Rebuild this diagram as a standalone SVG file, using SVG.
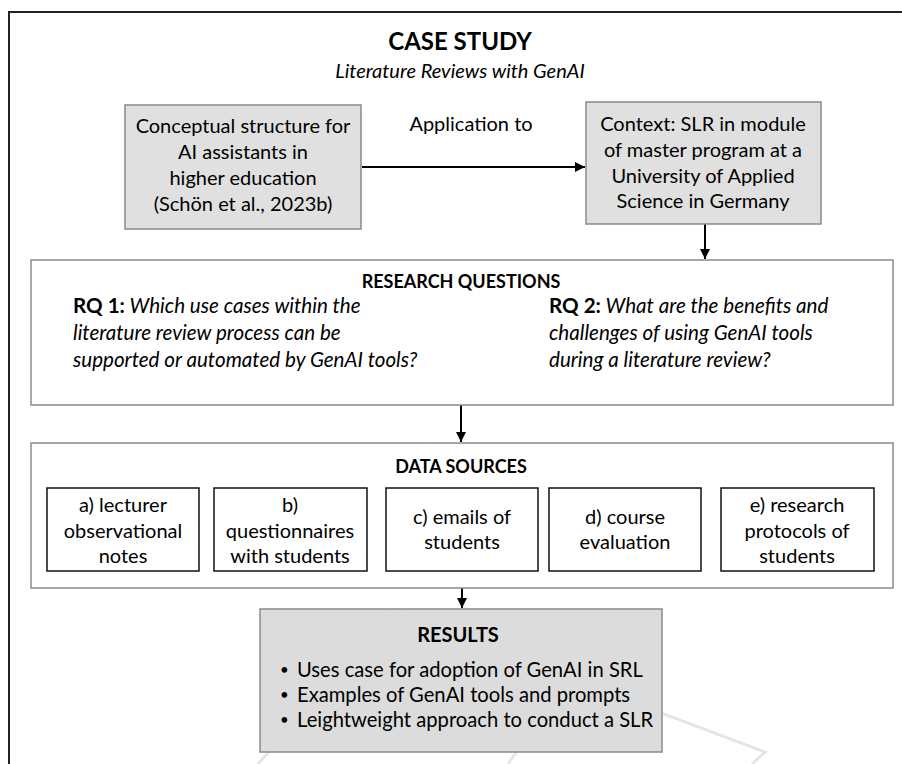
<svg xmlns="http://www.w3.org/2000/svg" width="902" height="764" viewBox="0 0 902 764">
<defs>
<marker id="ah" viewBox="0 0 10 10" refX="10" refY="5" markerWidth="10" markerHeight="10" markerUnits="userSpaceOnUse" orient="auto">
<path d="M0,0 L10,5 L0,10 z" fill="#000"/>
</marker>
<style>
text{font-family:Lato,"Liberation Sans",sans-serif;fill:#000;}
.t{font-size:20px;text-anchor:middle;}
.h{font-size:18px;font-weight:bold;text-anchor:middle;}
.q{font-size:20.6px;}
.r{font-size:20.2px;}
.b{font-size:15px;}
.gray{fill:#e0e0e0;stroke:#8a8a8a;stroke-width:1.5;}
.panel{fill:#fff;stroke:#8a8a8a;stroke-width:1.5;}
.src{fill:#fff;stroke:#111;stroke-width:1.5;}
.conn{stroke:#000;stroke-width:2;fill:none;}
.wm{stroke:#e6e6e6;stroke-width:3;fill:none;}
</style>
</defs>
<rect width="902" height="764" fill="#fff"/>
<g id="watermark">
<path class="wm" d="M258,764 L394,612 L470,640"/>
<path class="wm" d="M600,690 Q680,720 765,752 L752,764"/>
<path class="wm" d="M508,764 L552,700"/>
</g>
<path d="M9,764 L9,12 L902,12" fill="none" stroke="#222" stroke-width="2"/>
<g id="title">
<text x="460" y="50" style="font-size:24px;font-weight:bold;text-anchor:middle">CASE STUDY</text>
<text x="460" y="78" style="font-size:20px;font-style:italic;text-anchor:middle">Literature Reviews with GenAI</text>
</g>
<g id="connectors">
<line class="conn" x1="362" y1="167" x2="585" y2="167" marker-end="url(#ah)"/>
<text x="471" y="131" class="t">Application to</text>
<line class="conn" x1="705" y1="224" x2="705" y2="259" marker-end="url(#ah)"/>
<line class="conn" x1="461" y1="405" x2="461" y2="442" marker-end="url(#ah)"/>
<line class="conn" x1="462" y1="588" x2="462" y2="608" marker-end="url(#ah)"/>
</g>
<g id="concept">
<rect class="gray" x="125" y="105" width="236" height="124"/>
<text class="t" x="243" y="133">Conceptual structure for</text>
<text class="t" x="243" y="159">AI assistants in</text>
<text class="t" x="243" y="185">higher education</text>
<text class="t" x="243" y="211">(Schön et al., 2023b)</text>
</g>
<g id="context">
<rect class="gray" x="586" y="102" width="235" height="122"/>
<text class="t" x="703" y="131">Context: SLR in module</text>
<text class="t" x="703" y="157">of master program at a</text>
<text class="t" x="703" y="183">University of Applied</text>
<text class="t" x="703" y="208">Science in Germany</text>
</g>
<g id="rq">
<rect class="panel" x="31" y="260" width="862" height="145"/>
<text class="h" x="461" y="288">RESEARCH QUESTIONS</text>
<text class="q" x="73" y="313"><tspan font-weight="bold">RQ 1:</tspan><tspan font-style="italic"> Which use cases within the</tspan></text>
<text class="q" x="73" y="340" font-style="italic">literature review process can be</text>
<text class="q" x="73" y="367" font-style="italic">supported or automated by GenAI tools?</text>
<text class="q" x="549" y="313"><tspan font-weight="bold">RQ 2:</tspan><tspan font-style="italic"> What are the benefits and</tspan></text>
<text class="q" x="549" y="340" font-style="italic">challenges of using GenAI tools</text>
<text class="q" x="549" y="367" font-style="italic">during a literature review?</text>
</g>
<g id="datasources">
<rect class="panel" x="31" y="443" width="862" height="145"/>
<text class="h" x="461" y="473">DATA SOURCES</text>
</g>
<g id="src-a">
<rect class="src" x="47" y="488" width="152" height="83"/>
<text class="t" x="123" y="512">a) lecturer</text>
<text class="t" x="123" y="538">observational</text>
<text class="t" x="123" y="563">notes</text>
</g>
<g id="src-b">
<rect class="src" x="214" y="488" width="153" height="83"/>
<text class="t" x="290" y="512">b)</text>
<text class="t" x="290" y="538">questionnaires</text>
<text class="t" x="290" y="563">with students</text>
</g>
<g id="src-c">
<rect class="src" x="386" y="488" width="152" height="83"/>
<text class="t" x="462" y="524">c) emails of</text>
<text class="t" x="462" y="549">students</text>
</g>
<g id="src-d">
<rect class="src" x="549" y="488" width="152" height="83"/>
<text class="t" x="625" y="524">d) course</text>
<text class="t" x="625" y="549">evaluation</text>
</g>
<g id="src-e">
<rect class="src" x="721" y="488" width="153" height="83"/>
<text class="t" x="797" y="512">e) research</text>
<text class="t" x="797" y="538">protocols of</text>
<text class="t" x="797" y="563">students</text>
</g>
<g id="results">
<rect x="260" y="609" width="402" height="143" fill="#d9d9d9" stroke="#8a8a8a" stroke-width="1.5" fill-opacity="0.92"/>
<text class="h" x="458" y="642" style="font-size:20px">RESULTS</text>
<text class="b" x="280" y="675">•</text>
<text class="r" x="297" y="677">Uses case for adoption of GenAI in SRL</text>
<text class="b" x="280" y="700">•</text>
<text class="r" x="297" y="702">Examples of GenAI tools and prompts</text>
<text class="b" x="280" y="725">•</text>
<text class="r" x="297" y="727">Leightweight approach to conduct a SLR</text>
</g>
</svg>
